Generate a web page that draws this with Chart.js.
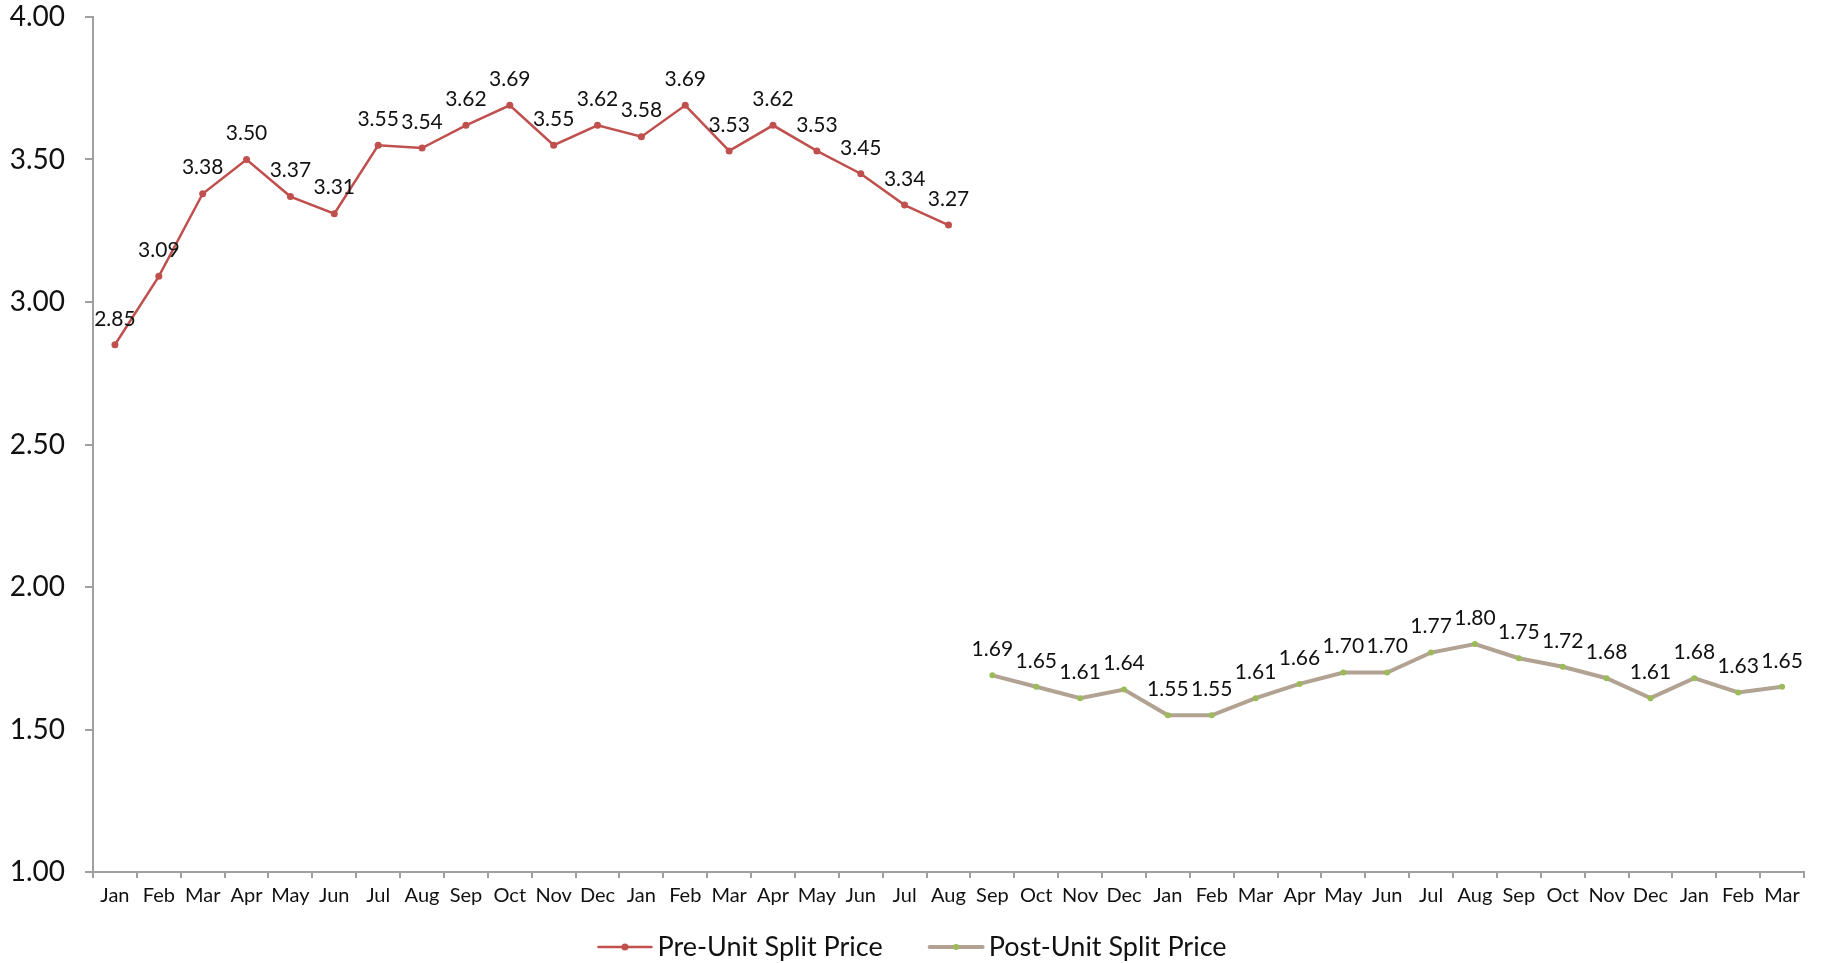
<!DOCTYPE html>
<html>
<head>
<meta charset="utf-8">
<script src="https://cdn.jsdelivr.net/npm/chart.js@4/dist/chart.umd.min.js"></script>
<style>
  html, body { margin: 0; padding: 0; background: #ffffff; }
  #wrap { width: 1825px; height: 963px; }
</style>
</head>
<body>
<div id="wrap"><canvas id="chart" width="1825" height="963"></canvas></div>
<script>
// Month labels across the 39-month window
const months = ["Jan","Feb","Mar","Apr","May","Jun","Jul","Aug","Sep","Oct","Nov","Dec",
                "Jan","Feb","Mar","Apr","May","Jun","Jul","Aug","Sep","Oct","Nov","Dec",
                "Jan","Feb","Mar","Apr","May","Jun","Jul","Aug","Sep","Oct","Nov","Dec",
                "Jan","Feb","Mar"];

// Monthly unit prices before the split (first 20 months)
const preSplit = [2.85, 3.09, 3.38, 3.50, 3.37, 3.31, 3.55, 3.54, 3.62, 3.69,
                  3.55, 3.62, 3.58, 3.69, 3.53, 3.62, 3.53, 3.45, 3.34, 3.27];

// Monthly unit prices after the split (last 19 months)
const postSplit = [1.69, 1.65, 1.61, 1.64, 1.55, 1.55, 1.61, 1.66, 1.70, 1.70,
                   1.77, 1.80, 1.75, 1.72, 1.68, 1.61, 1.68, 1.63, 1.65];

const seriesNames = ["Pre-Unit Split Price", "Post-Unit Split Price"];

// Y axis range
const yMin = 1.0, yMax = 4.0, yStep = 0.5;

const FONT = "Lato, 'Open Sans', sans-serif";
const AXIS_GREY = "#a0a0a0";

// Pad each series with nulls so they sit on the shared month axis
const preData = preSplit.concat(new Array(months.length - preSplit.length).fill(null));
const postData = new Array(months.length - postSplit.length).fill(null).concat(postSplit);

// Value labels above every point
const pointLabels = {
  id: "pointLabels",
  afterDatasetsDraw(chart) {
    const ctx = chart.ctx;
    ctx.save();
    ctx.font = "21px " + FONT;
    ctx.fillStyle = "#111111";
    ctx.textAlign = "center";
    ctx.textBaseline = "middle";
    chart.data.datasets.forEach((ds, i) => {
      const meta = chart.getDatasetMeta(i);
      meta.data.forEach((pt, j) => {
        const v = ds.data[j];
        if (v === null || v === undefined) return;
        ctx.fillText(v.toFixed(2), pt.x, pt.y - 26);
      });
    });
    ctx.restore();
  }
};

// Legend along the bottom: line sample with a marker, then the series name
const bottomLegend = {
  id: "bottomLegend",
  afterDraw(chart) {
    const ctx = chart.ctx;
    ctx.save();
    ctx.font = "27px " + FONT;
    const sample = 53, gapText = 6, gapItem = 47;
    const items = chart.data.datasets.map(ds => ({
      ds, w: sample + gapText + ctx.measureText(ds.label).width
    }));
    const total = items.reduce((s, it) => s + it.w, 0) + gapItem * (items.length - 1);
    let x = (chart.width - total) / 2;
    const y = 947;
    items.forEach(it => {
      const ds = it.ds;
      ctx.strokeStyle = ds.borderColor;
      ctx.lineWidth = ds.borderWidth;
      ctx.lineCap = "round";
      ctx.beginPath();
      ctx.moveTo(x, y);
      ctx.lineTo(x + sample, y);
      ctx.stroke();
      ctx.fillStyle = ds.pointBackgroundColor;
      ctx.beginPath();
      ctx.arc(x + sample / 2, y, ds.pointRadius, 0, Math.PI * 2);
      ctx.fill();
      ctx.fillStyle = "#111111";
      ctx.textAlign = "left";
      ctx.textBaseline = "middle";
      ctx.fillText(ds.label, x + sample + gapText, y);
      x += it.w + gapItem;
    });
    ctx.restore();
  }
};

new Chart(document.getElementById("chart"), {
  type: "line",
  data: {
    labels: months,
    datasets: [
      {
        label: seriesNames[0],
        data: preData,
        borderColor: "#c0504d",
        backgroundColor: "#c0504d",
        borderWidth: 2.5,
        pointRadius: 3.5,
        pointBackgroundColor: "#c0504d",
        pointBorderWidth: 0,
        tension: 0,
        spanGaps: false
      },
      {
        label: seriesNames[1],
        data: postData,
        borderColor: "#b1a292",
        backgroundColor: "#b1a292",
        borderWidth: 4,
        pointRadius: 3,
        pointBackgroundColor: "#9bbb59",
        pointBorderWidth: 0,
        tension: 0,
        spanGaps: false
      }
    ]
  },
  options: {
    responsive: false,
    animation: false,
    layout: { padding: { left: 0, right: 21, top: 17, bottom: 0 } },
    plugins: {
      legend: { display: false },
      tooltip: { enabled: false }
    },
    scales: {
      x: {
        offset: true,
        grid: {
          display: true,
          offset: true,
          drawOnChartArea: false,
          drawTicks: true,
          tickLength: 6,
          color: AXIS_GREY,
          lineWidth: 2
        },
        border: { display: true, color: AXIS_GREY, width: 2 },
        ticks: {
          autoSkip: false,
          maxRotation: 0,
          minRotation: 0,
          padding: 6,
          color: "#111111",
          font: { family: FONT, size: 20 }
        },
        afterFit(scale) { scale.height = 91; }
      },
      y: {
        min: yMin,
        max: yMax,
        grid: {
          display: true,
          drawOnChartArea: false,
          drawTicks: true,
          tickLength: 8,
          color: AXIS_GREY,
          lineWidth: 2
        },
        border: { display: true, color: AXIS_GREY, width: 2 },
        ticks: {
          stepSize: yStep,
          padding: 20,
          color: "#111111",
          font: { family: FONT, size: 28 },
          callback: v => Number(v).toFixed(2)
        },
        afterFit(scale) {
          scale.width = 93;
          scale.paddingTop = 0;
          scale.paddingBottom = 0;
        }
      }
    }
  },
  plugins: [pointLabels, bottomLegend]
});
</script>
</body>
</html>
